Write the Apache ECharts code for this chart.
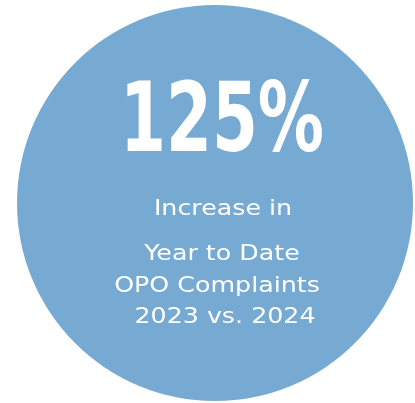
<!DOCTYPE html>
<html>
<head>
<meta charset="utf-8">
<script src="https://cdn.jsdelivr.net/npm/echarts@6/dist/echarts.min.js"></script>
<style>
html,body{margin:0;padding:0;background:#fff;}
#chart{width:415px;height:403px;}
</style>
</head>
<body>
<div id="chart"></div>
<script>
const categories = ['Increase in Year to Date OPO Complaints 2023 vs. 2024'];
const percentIncrease = [125];
const captionLines = ['Increase in', 'Year to Date', 'OPO Complaints', '2023 vs. 2024'];

const chart = echarts.init(document.getElementById('chart'), null, {renderer: 'canvas'});

const lineLayout = [
  {x: 223, y: 209.5},
  {x: 222, y: 254.5},
  {x: 217, y: 286},
  {x: 225, y: 317.5}
];

const graphics = [{
  type: 'text',
  x: 222, y: 126,
  scaleX: 0.757,
  z: 100,
  silent: true,
  style: {
    text: percentIncrease[0] + '%',
    x: 0, y: 0,
    fill: '#ffffff',
    font: 'bold 97px "DejaVu Sans Condensed", "DejaVu Sans"',
    textAlign: 'center',
    textVerticalAlign: 'middle'
  }
}];
captionLines.forEach((t, i) => {
  graphics.push({
    type: 'text',
    x: lineLayout[i].x, y: lineLayout[i].y,
    scaleX: 1.15,
    z: 100,
    silent: true,
    style: {
      text: t,
      x: 0, y: 0,
      fill: '#ffffff',
      font: '22px "DejaVu Sans"',
      textAlign: 'center',
      textVerticalAlign: 'middle'
    }
  });
});

chart.setOption({
  backgroundColor: '#ffffff',
  animation: false,
  series: [{
    type: 'pie',
    center: [215, 203],
    radius: [0, 198],
    silent: true,
    z: 1,
    label: {show: false},
    labelLine: {show: false},
    itemStyle: {color: '#76AAD3', borderWidth: 0},
    data: categories.map((c, i) => ({name: c, value: percentIncrease[i]}))
  }],
  graphic: {elements: graphics}
});
</script>
</body>
</html>
